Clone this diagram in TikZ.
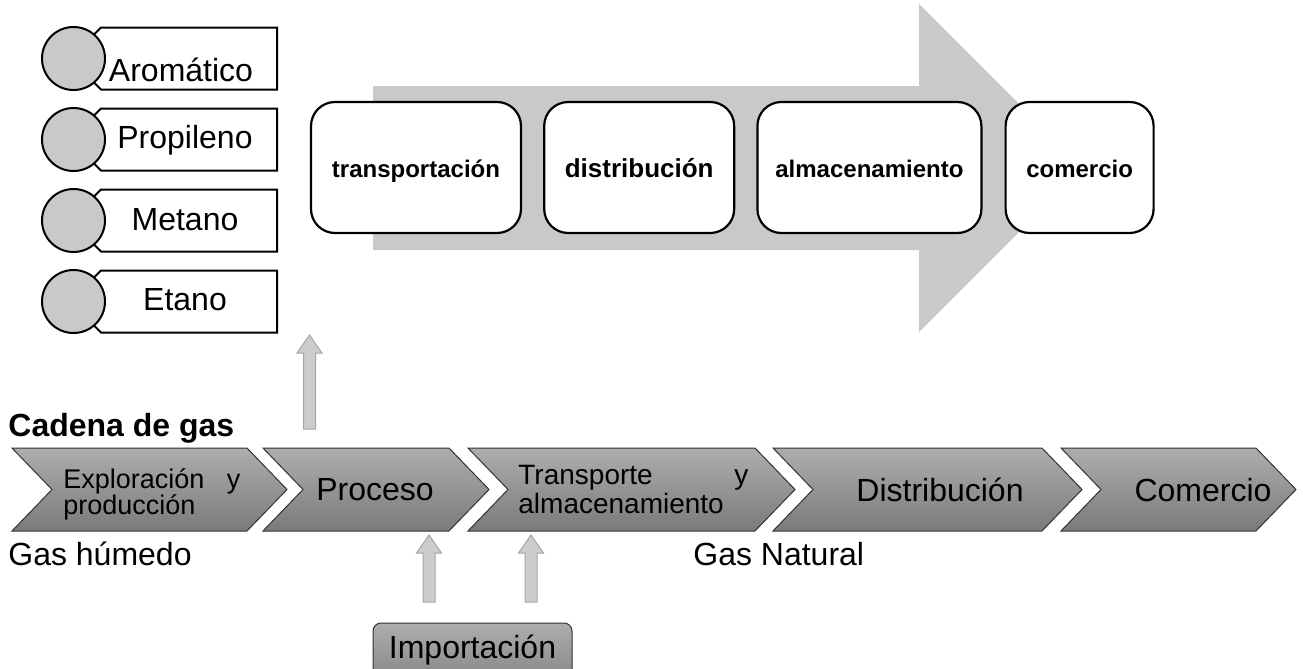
\documentclass[tikz,border=0pt]{standalone}
\usepackage{fontspec}
\setmainfont{Liberation Sans}
\usepackage{tikz}
\usetikzlibrary{positioning}

\tikzset{
  listbox/.style={draw=black, line width=1pt, fill=white},
  listdot/.style={circle, draw=black, line width=1pt, fill=black!21,
                  minimum size=31.5pt, inner sep=0pt},
  stagebox/.style={draw=black, line width=1.1pt, fill=white,
                   rounded corners=12pt, minimum height=65.5pt, inner sep=0pt,
                   text height=9.5pt, text depth=0pt},
  chevron/.style={draw=black!80, line width=0.5pt, top color=black!32, bottom color=black!52},
  blockarrow/.style={draw=black!35, line width=0.5pt, fill=black!20},
  txt/.style={font=\fontsize{16}{19}\selectfont, inner sep=0pt}
}

\begin{document}
\begin{tikzpicture}[x=0.5pt, y=-0.5pt]
  \useasboundingbox (0,0) rectangle (1303,669);
  \clip (0,0) rectangle (1303,669);

  % big grey arrow behind the stages
  \fill[black!21] (373,86) -- (919,86) -- (919,4) -- (1083,168)
        -- (919,332) -- (919,250) -- (373,250) -- cycle;

  % stages
  \node[stagebox, minimum width=105pt] (transp) at (416,167.5)
       {\bfseries\fontsize{12}{14}\selectfont transportación};
  \node[stagebox, minimum width=95pt, right=10.5pt of transp] (distr)
       {\bfseries\fontsize{13}{15}\selectfont distribución};
  \node[stagebox, minimum width=112pt, right=10.5pt of distr] (almac)
       {\bfseries\fontsize{12}{14}\selectfont almacenamiento};
  \node[stagebox, minimum width=74pt, right=11pt of almac] (comer)
       {\bfseries\fontsize{12}{14}\selectfont comercio};

  % list of products
  \foreach \t/\lab/\nm/\dy/\cx in {27.5/Aromático/aro/54/181,
                                   108.5/Propileno/prop/39.5/185,
                                   189.5/Metano/met/40.5/185,
                                   270.5/Etano/eta/40/185} {
    \draw[listbox] (101,\t) -- (277,\t) -- (277,{\t+62}) -- (101,{\t+62})
          -- (92,{\t+53}) -- (92,{\t+9}) -- cycle;
    \node[listdot] (\nm-dot) at (73.5,{\t+31}) {};
    \node[txt, anchor=base] (\nm) at (\cx,{\t+\dy}) {\lab};
  }

  % gas chain
  \node[txt, font=\bfseries\fontsize{16}{19}\selectfont, anchor=base west]
       (title) at (8,436) {Cadena de gas};
  \foreach \a/\b/\nm in {12/247/expl, 263/449/proc, 468/755/trans,
                         773/1042/dist, 1061/1256/com} {
    \shade[chevron] (\a,448) -- (\b,448) -- ({\b+40},489.5) -- (\b,531)
          -- (\a,531) -- ({\a+40},489.5) -- cycle;
    \coordinate (\nm-c) at ({(\a+\b+40)/2},489.5);
  }
  \node[inner sep=0pt, text width=88.5pt, align=left, anchor=base west,
        font=\fontsize{13.5}{13.2}\selectfont] (expl) at (63,488)
       {Exploración\hfill y\\producción};
  \node[txt, anchor=base] (proc) at (375,500) {Proceso};
  \node[inner sep=0pt, text width=115pt, align=left, anchor=base west,
        font=\fontsize{14}{14.5}\selectfont] (trans) at (518,484)
       {Transporte\hfill y\\almacenamiento};
  \node[txt, anchor=base] (dist) at (940,501) {Distribución};
  \node[txt, anchor=base] (com) at (1203,501) {Comercio};

  \node[txt, anchor=base west] (humedo) at (8,565) {Gas húmedo};
  \node[txt, anchor=base west] (natural) at (693,565) {Gas Natural};

  % block arrows
  \foreach \x/\b/\t in {309.5/429/335, 429/602/535, 531/602/535}
    \draw[blockarrow] ({\x-6},\b) -- ({\x-6},{\t+18}) -- ({\x-12.5},{\t+18})
          -- (\x,\t) -- ({\x+12.5},{\t+18}) -- ({\x+6},{\t+18})
          -- ({\x+6},\b) -- cycle;

  % import box
  \shade[chevron, rounded corners=4pt] (373,623) rectangle (572,700);
  \node[txt, anchor=base] (imp) at (472.5,658) {Importación};
\end{tikzpicture}
\end{document}
